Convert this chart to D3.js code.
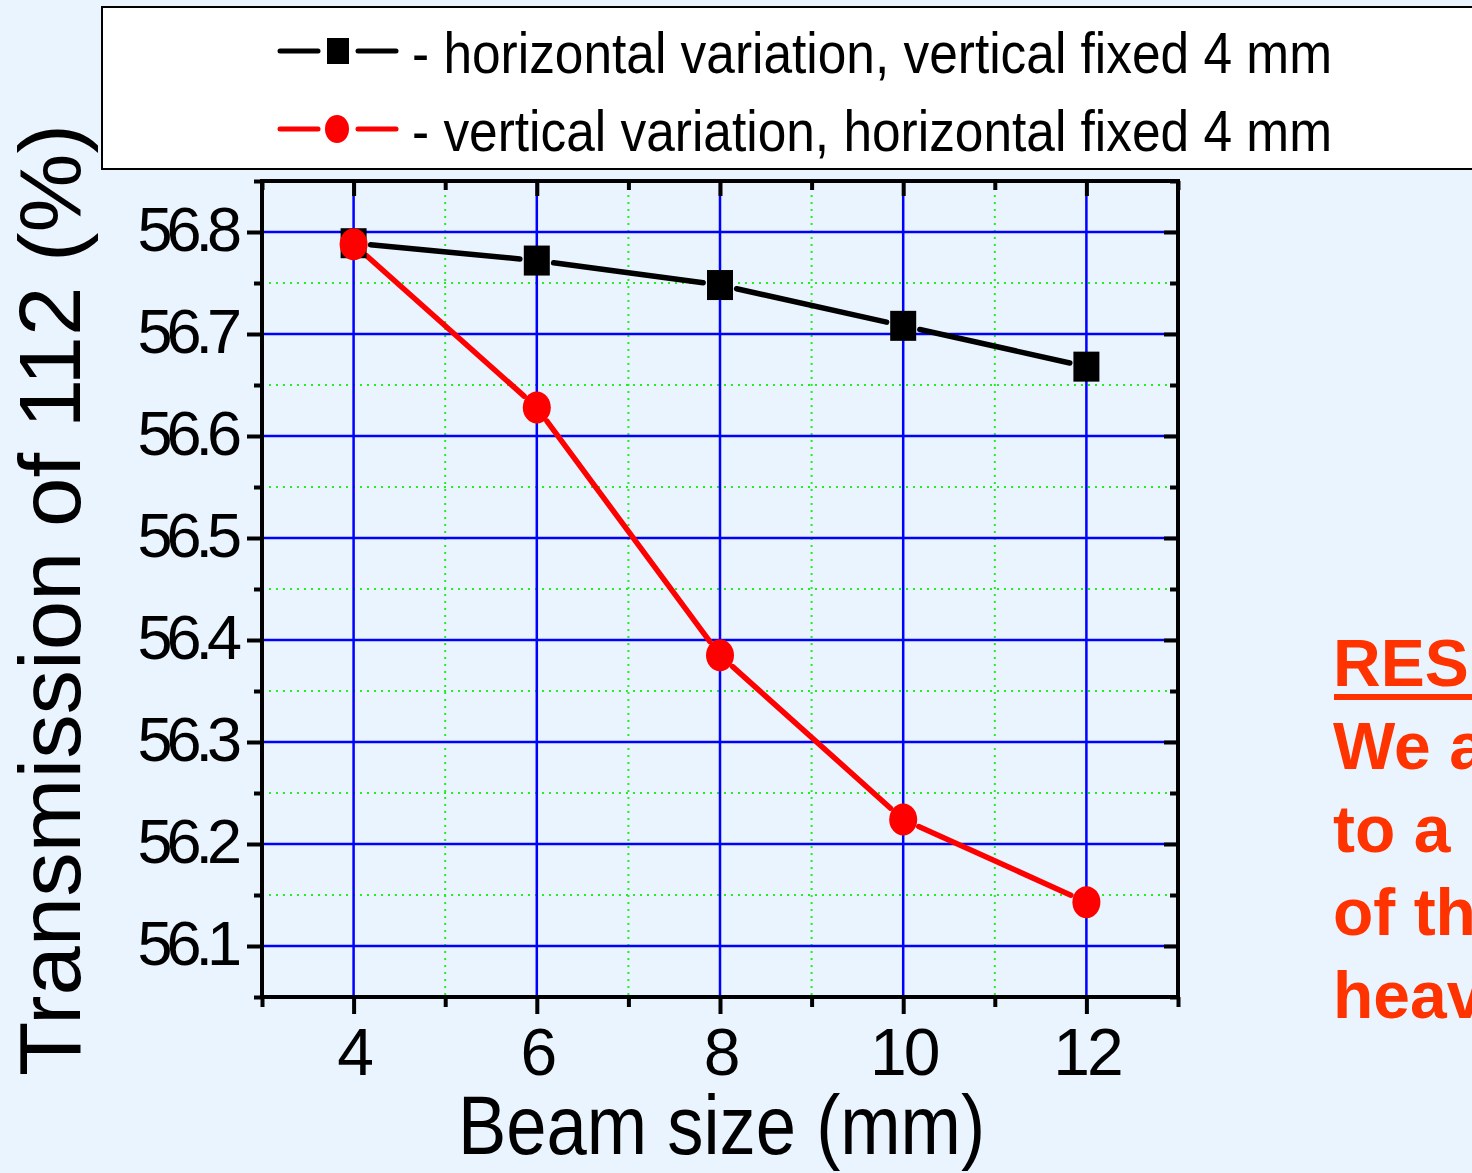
<!DOCTYPE html>
<html>
<head>
<meta charset="utf-8">
<script src="https://cdn.jsdelivr.net/npm/d3@7"></script>
<style>
  html, body { margin: 0; padding: 0; background: #eaf4fe; overflow: hidden; }
  svg { display: block; }
</style>
</head>
<body>
<div id="chart"></div>
<script>
// Data
const beamSize = [4, 6, 8, 10, 12];
const horizontalVar = [56.789, 56.772, 56.748, 56.708, 56.668];
const verticalVar = [56.788, 56.628, 56.385, 56.224, 56.143];
const xTicks = [4, 6, 8, 10, 12];
const yTicks = [56.1, 56.2, 56.3, 56.4, 56.5, 56.6, 56.7, 56.8];
const legendLabels = [
  "- horizontal variation, vertical fixed 4 mm",
  "- vertical variation, horizontal fixed 4 mm"
];
const sideText = ["RESULTS", "We are", "to a", "of the", "heavy"];

const W = 1472, H = 1173;
const margin = {top: 181, right: 294, bottom: 176, left: 262},
    width = W - margin.left - margin.right,
    height = H - margin.top - margin.bottom;

const svg = d3.select("#chart")
  .append("svg")
    .attr("width", W)
    .attr("height", H);

svg.append("rect").attr("width", W).attr("height", H).attr("fill", "#eaf4fe");

const g = svg.append("g")
    .attr("transform", `translate(${margin.left},${margin.top})`);

const x = d3.scaleLinear().domain([3, 13]).range([0, width]);
const y = d3.scaleLinear().domain([56.05, 56.85]).range([height, 0]);

const minorX = d3.range(3, 13.01, 1).filter(v => v % 2 === 1);
const minorY = d3.range(56.05, 56.851, 0.1).map(v => +v.toFixed(2));

// Minor grid (green dotted)
g.append("g").selectAll("line")
  .data(minorX.filter(v => v > 3 && v < 13))
  .join("line")
    .attr("x1", d => x(d)).attr("x2", d => x(d))
    .attr("y1", 0).attr("y2", height)
    .attr("stroke", "#22ee22").attr("stroke-width", 2)
    .attr("stroke-dasharray", "2,5");
g.append("g").selectAll("line")
  .data(minorY.filter(v => v > 56.05 && v < 56.85))
  .join("line")
    .attr("x1", 0).attr("x2", width)
    .attr("y1", d => y(d)).attr("y2", d => y(d))
    .attr("stroke", "#22ee22").attr("stroke-width", 2)
    .attr("stroke-dasharray", "2,5");

// Major grid (blue)
g.append("g").selectAll("line")
  .data(xTicks)
  .join("line")
    .attr("x1", d => x(d)).attr("x2", d => x(d))
    .attr("y1", 0).attr("y2", height)
    .attr("stroke", "#0000ff").attr("stroke-width", 2.5);
g.append("g").selectAll("line")
  .data(yTicks)
  .join("line")
    .attr("x1", 0).attr("x2", width)
    .attr("y1", d => y(d)).attr("y2", d => y(d))
    .attr("stroke", "#0000ff").attr("stroke-width", 2.5);

// Axes
function styleAxis(sel) {
  sel.select(".domain").remove();
  sel.selectAll(".tick line").attr("stroke", "#000").attr("stroke-width", 4);
}
const axFont = "'Liberation Sans', Arial, Helvetica, sans-serif";

// bottom
const bottom = g.append("g").attr("transform", `translate(0,${height})`)
  .call(d3.axisBottom(x).tickValues(xTicks).tickSize(17).tickPadding(14))
  .call(styleAxis);
bottom.selectAll("text").attr("font-family", axFont).attr("font-size", 66)
  .attr("fill", "#000").attr("letter-spacing", -3);
g.append("g").attr("transform", `translate(0,${height})`)
  .call(d3.axisBottom(x).tickValues(minorX).tickSize(10).tickFormat(""))
  .call(styleAxis);

// top
g.append("g")
  .call(d3.axisTop(x).tickValues(xTicks).tickSize(-15).tickFormat(""))
  .call(styleAxis);
g.append("g")
  .call(d3.axisTop(x).tickValues(minorX).tickSize(-9).tickFormat(""))
  .call(styleAxis);

// left
const left = g.append("g")
  .call(d3.axisLeft(y).tickValues(yTicks).tickSize(15).tickPadding(11).tickFormat(d3.format(".1f")))
  .call(styleAxis);
left.selectAll("text").attr("font-family", axFont).attr("font-size", 63)
  .attr("fill", "#000").attr("letter-spacing", -6).attr("dy", "0.29em");
g.append("g")
  .call(d3.axisLeft(y).tickValues(minorY).tickSize(8).tickFormat(""))
  .call(styleAxis);

// right
g.append("g").attr("transform", `translate(${width},0)`)
  .call(d3.axisRight(y).tickValues(yTicks).tickSize(-14).tickFormat(""))
  .call(styleAxis);
g.append("g").attr("transform", `translate(${width},0)`)
  .call(d3.axisRight(y).tickValues(minorY).tickSize(-8).tickFormat(""))
  .call(styleAxis);

// frame
g.append("rect").attr("width", width).attr("height", height)
  .attr("fill", "none").attr("stroke", "#000").attr("stroke-width", 4);

// Series lines with small gaps near markers
function drawSeries(vals, color) {
  const pts = beamSize.map((b, i) => [x(b), y(vals[i])]);
  const gap = 17;
  const segs = d3.pairs(pts).map(([a, b]) => {
    const dx = b[0] - a[0], dy = b[1] - a[1], L = Math.hypot(dx, dy);
    const ux = dx / L, uy = dy / L;
    return [[a[0] + ux * gap, a[1] + uy * gap], [b[0] - ux * gap, b[1] - uy * gap]];
  });
  g.append("g").selectAll("path")
    .data(segs)
    .join("path")
      .attr("d", d3.line())
      .attr("stroke", color).attr("stroke-width", 5.5)
      .attr("stroke-linecap", "round").attr("fill", "none");
}
drawSeries(horizontalVar, "#000");
drawSeries(verticalVar, "#ff0000");

// square markers
g.append("g").selectAll("rect")
  .data(beamSize.map((b, i) => [b, horizontalVar[i]]))
  .join("rect")
    .attr("x", d => x(d[0]) - 13).attr("y", d => y(d[1]) - 15)
    .attr("width", 26).attr("height", 30)
    .attr("fill", "#000");

// circle markers
g.append("g").selectAll("ellipse")
  .data(beamSize.map((b, i) => [b, verticalVar[i]]))
  .join("ellipse")
    .attr("cx", d => x(d[0])).attr("cy", d => y(d[1]))
    .attr("rx", 14).attr("ry", 16)
    .attr("fill", "#ff0000");

// Axis titles
svg.append("text")
  .attr("x", 458).attr("y", 1154)
  .attr("font-family", axFont).attr("font-size", 84)
  .attr("textLength", 527).attr("lengthAdjust", "spacingAndGlyphs")
  .text("Beam size (mm)");

svg.append("text")
  .attr("transform", "translate(80,1076) rotate(-90)")
  .attr("font-family", axFont).attr("font-size", 88)
  .attr("textLength", 952).attr("lengthAdjust", "spacingAndGlyphs")
  .text("Transmission of 112 (%)");

// Legend
const legend = svg.append("g");
legend.append("rect")
  .attr("x", 102).attr("y", 7).attr("width", 1400).attr("height", 162)
  .attr("fill", "#fff").attr("stroke", "#000").attr("stroke-width", 2);

const legendRows = [
  {label: legendLabels[0], color: "#000", shape: "square", cy: 51},
  {label: legendLabels[1], color: "#ff0000", shape: "circle", cy: 129}
];
legendRows.forEach(r => {
  const lg = legend.append("g");
  [[280, 318], [358, 396]].forEach(([a, b]) => {
    lg.append("line").attr("x1", a).attr("x2", b).attr("y1", r.cy).attr("y2", r.cy)
      .attr("stroke", r.color).attr("stroke-width", 5).attr("stroke-linecap", "round");
  });
  if (r.shape === "square") {
    lg.append("rect").attr("x", 327).attr("y", r.cy - 13).attr("width", 22).attr("height", 26).attr("fill", r.color);
  } else {
    lg.append("ellipse").attr("cx", 337).attr("cy", r.cy).attr("rx", 12).attr("ry", 14).attr("fill", r.color);
  }
  lg.append("text")
    .attr("x", 412).attr("y", r.cy + 22)
    .attr("font-family", axFont).attr("font-size", 58)
    .attr("textLength", 920).attr("lengthAdjust", "spacingAndGlyphs")
    .text(r.label);
});

// Side text (runs off the page edge, as in the source slide)
const side = svg.append("g")
  .attr("font-family", axFont).attr("font-weight", "bold")
  .attr("font-size", 66).attr("fill", "#ff3300");
sideText.forEach((t, i) => {
  side.append("text").attr("x", 1333).attr("y", 686 + i * 83).text(t);
});
side.append("rect").attr("x", 1334).attr("y", 694).attr("width", 200).attr("height", 6).attr("fill", "#ff3300");
</script>
</body>
</html>
